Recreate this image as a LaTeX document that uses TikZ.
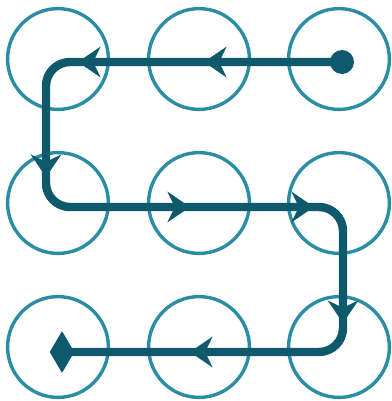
\documentclass[tikz,border=0pt]{standalone}
\usetikzlibrary{arrows.meta,shapes.geometric}
\definecolor{ring}{HTML}{2A8DA4}
\definecolor{trail}{HTML}{0E5A6C}
\begin{document}
\begin{tikzpicture}[x=0.25mm,y=-0.25mm,
  dot/.style={circle,draw=ring,line width=0.85mm,minimum size=25.2mm,inner sep=0pt},
  trailline/.style={draw=trail,line width=2.1mm,rounded corners=6mm},
  tipline/.style={draw=trail,line width=2.1mm,-{Stealth[length=5.6mm,width=7.6mm,inset=1.8mm]}},
  startdot/.style={circle,fill=trail,minimum size=6mm,inner sep=0pt},
  enddiam/.style={diamond,fill=trail,minimum width=6.2mm,minimum height=10.5mm,inner sep=0pt}]
\useasboundingbox[fill=white] (0,0) rectangle (392,401);
% grid of circles
\foreach \c/\x in {1/58,2/199,3/339}{
  \foreach \r/\y in {1/59,2/203,3/347}{
    \node[dot] (c\r\c) at (\x,\y) {};
  }
}
% path corners
\coordinate (S) at (342,62);
\coordinate (A) at (46,62);
\coordinate (B) at (46,207);
\coordinate (C) at (343,207);
\coordinate (D) at (343,352);
\coordinate (E) at (62,352);
\draw[trailline] (S) -- (A) -- (B) -- (C) -- (D) -- (E);
% arrow tips
\coordinate (t1) at (204,62);
\coordinate (t2) at (78,62);
\coordinate (t3) at (46,177);
\coordinate (t4) at (190,207);
\coordinate (t5) at (314,207);
\coordinate (t6) at (343,323);
\coordinate (t7) at (190,352);
\draw[tipline] (234,62) -- (t1);
\draw[tipline] (108,62) -- (t2);
\draw[tipline] (46,147) -- (t3);
\draw[tipline] (160,207) -- (t4);
\draw[tipline] (284,207) -- (t5);
\draw[tipline] (343,293) -- (t6);
\draw[tipline] (220,352) -- (t7);
\node[startdot] (st) at (S) {};
\node[enddiam] (en) at (E) {};
\end{tikzpicture}
\end{document}
